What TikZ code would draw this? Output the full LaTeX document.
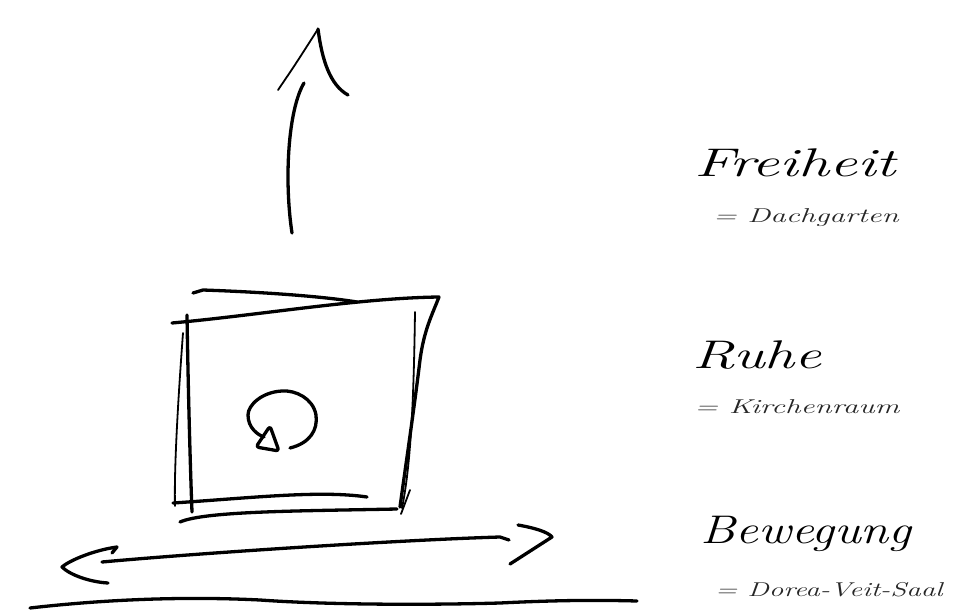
\documentclass[tikz,border=0pt]{standalone}
\begin{document}
\begin{tikzpicture}[x=1pt,y=-1pt,
  stroke/.style={line width=3.3pt, line cap=round, line join=round},
  fine/.style={line width=1.8pt, line cap=round, line join=round},
  big/.style={font=\fontsize{40}{40}\selectfont\itshape, inner sep=0pt, anchor=base},
  small/.style={font=\fontsize{20}{20}\selectfont\itshape, inner sep=0pt, anchor=base, text=black!85}]
\useasboundingbox[fill=white] (0,0) rectangle (954,613);

% upward arrow
\draw[stroke] (292,233) .. controls (284,180) and (288,110) .. (304,83);
\draw[fine] (278,90) .. controls (295,65) .. (318,29);
\draw[stroke] (318,29) .. controls (322,60) and (330,85) .. (348,95);

% box
\draw[stroke] (193,293) -- (203,290) .. controls (260,292) and (320,296) .. (357,302);
\draw[stroke] (172,323) .. controls (260,315) and (360,298) .. (439,297) .. controls (432,315) and (424,330) .. (420,360) .. controls (414,410) and (405,470) .. (400,507);
\draw[fine] (415,312) .. controls (414,380) and (412,460) .. (402,508);
\draw[fine] (410,490) -- (401,514);
\draw[stroke] (187,315) .. controls (188,380) and (190,460) .. (192,512);
\draw[fine] (183,333) .. controls (178,400) and (174,470) .. (175,506);
\draw[stroke] (173,503) .. controls (250,498) and (320,490) .. (367,497);
\draw[stroke] (180,522) .. controls (205,511) and (300,511) .. (397,509);

% rotation symbol
\draw[stroke] (290,448) .. controls (310,443) and (318,430) .. (316,415)
  .. controls (313,398) and (295,390) .. (282,391)
  .. controls (262,392) and (248,405) .. (248,415)
  .. controls (248,428) and (258,435) .. (264,437);
\draw[stroke, rounded corners=3pt] (256,447) -- (270,426) -- (279,451) -- cycle;

% horizontal double arrow
\draw[stroke] (102,562) .. controls (200,553) and (400,540) .. (500,537) -- (509,540);
\draw[stroke] (112,553) -- (117,547) .. controls (95,550) and (70,560) .. (62,567)
  .. controls (70,575) and (90,582) .. (108,583);
\draw[stroke] (518,525) .. controls (535,528) and (548,532) .. (552,537) -- (510,564);

% ground line
\draw[stroke] (30,608) .. controls (100,600) and (180,596) .. (260,600)
  .. controls (330,605) and (430,605) .. (500,603)
  .. controls (560,600) and (600,600) .. (637,601);

% labels
\node[big] (freiheit) at (795,176) {\scalebox{1.55}[1]{Freiheit}};
\node[small] (dach) at (806,222) {\scalebox{1.55}[1]{= Dachgarten}};
\node[big] (ruhe) at (757,368) {\scalebox{1.5}[1]{Ruhe}};
\node[small] (kirche) at (797,413) {\scalebox{1.55}[1]{= Kirchenraum}};
\node[big] (bewegung) at (806,543) {\scalebox{1.27}[1]{Bewegung}};
\node[small] (saal) at (829,596) {\scalebox{1.45}[1]{= Dorea-Veit-Saal}};
\end{tikzpicture}
\end{document}
